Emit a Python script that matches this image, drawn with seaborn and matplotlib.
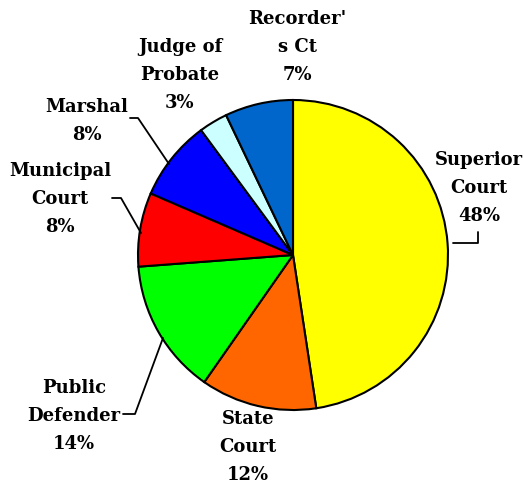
import matplotlib
matplotlib.use("Agg")
import matplotlib.pyplot as plt
import seaborn as sns

sns.set_theme(style="white")

categories = ["Superior\nCourt", "State\nCourt", "Public\nDefender", "Municipal\nCourt",
              "Marshal", "Judge of\nProbate", "Recorder'\ns Ct"]
shares = [47.6, 12.1, 14.1, 7.7, 8.4, 3.0, 7.1]
colors = ["#FFFF00", "#FF6600", "#00FF00", "#FF0000", "#0000FF", "#CCFFFF", "#0066CC"]

# label block centres in pixel coords (y measured from top)
label_pos = [(479, 188), (248, 447), (74, 416), (60, 199), (87, 121), (180, 75), (297, 47)]

# leader lines (pixel coords) for labels that sit away from the pie
leaders = [
    [(453, 243), (478, 243), (478, 232)],
    [(123, 414), (135, 414), (163, 338)],
    [(112, 198), (121, 198), (141, 233)],
    [(130, 118), (138, 118), (169, 164)],
]

W, H = 524, 487
fig = plt.figure(figsize=(W / 100, H / 100), dpi=100)
ax = fig.add_axes([0, 0, 1, 1])

ax.pie(shares, colors=colors, startangle=90, counterclock=False,
       center=(293, H - 255), radius=155, frame=True,
       wedgeprops=dict(edgecolor="black", linewidth=1.5))
ax.set_xlim(0, W)
ax.set_ylim(0, H)
ax.set_aspect("equal")
ax.axis("off")

for lab, val, (x, y) in zip(categories, shares, label_pos):
    ax.text(x, H - y, f"{lab}\n{round(val)}%", ha="center", va="center",
            fontsize=13, fontweight="bold", family="DejaVu Serif",
            color="black", linespacing=1.7)

for pts in leaders:
    xs = [p[0] for p in pts]
    ys = [H - p[1] for p in pts]
    ax.plot(xs, ys, color="black", linewidth=1.3)

fig.savefig("out.png", dpi=100)
